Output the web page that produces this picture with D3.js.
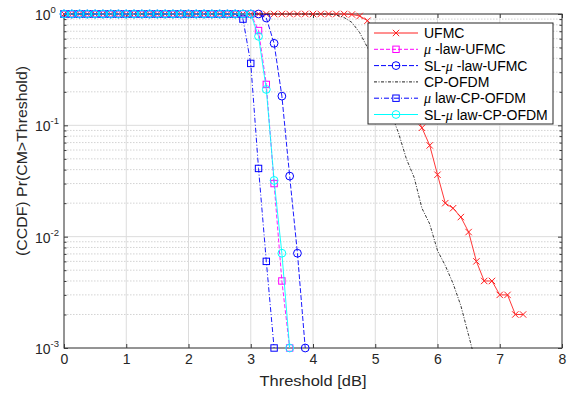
<!DOCTYPE html>
<html><head><meta charset="utf-8">
<script src="https://cdn.jsdelivr.net/npm/d3@7"></script>
<style>body{margin:0;background:#fff}svg{display:block}text{font-family:"Liberation Sans",Arial,Helvetica,sans-serif}</style>
</head><body><svg id="c" width="568" height="394"></svg>
<script>
// ---- data ----
const thresholds = [0,0.125,0.25,0.375,0.5,0.625,0.75,0.875,1,1.125,1.25,1.375,1.5,1.625,1.75,1.875,2,2.125,2.25,2.375,2.5,2.625,2.75,2.875,3,3.125,3.25,3.375,3.5,3.625,3.75,3.875,4,4.125,4.25,4.375,4.5,4.625,4.75,4.875,5,5.125,5.25,5.375,5.5,5.625,5.75,5.875,6,6.125,6.25,6.375,6.5,6.625,6.75,6.875,7,7.125,7.25,7.375];
const ufmc = [1,1,1,1,1,1,1,1,1,1,1,1,1,1,1,1,1,1,1,1,1,1,1,1,1,1,1,1,1,1,1,1,1,1,1,1,1,
  0.99,0.96,0.87,0.72,0.55,0.41,0.29,0.2,0.135,0.095,0.066,0.036,0.02,0.018,0.015,0.011,0.006,0.004,0.004,0.003,0.003,0.002,0.002];
const muUfmc = [1,1,1,1,1,1,1,1,1,1,1,1,1,1,1,1,1,1,1,1,1,1,1,1,1,
  0.71,0.233,0.03,0.004,0.001];
const slMuUfmc = [1,1,1,1,1,1,1,1,1,1,1,1,1,1,1,1,1,1,1,1,1,1,1,1,1,1,
  0.92,0.545,0.183,0.035,0.0071,0.001];
const cpOfdm = [1,1,1,1,1,1,1,1,1,1,1,1,1,1,1,1,1,1,1,1,1,1,1,1,1,1,1,1,1,1,1,1,1,1,1,
  0.98,0.93,0.84,0.68,0.5,0.33,0.2,0.13,0.085,0.05,0.034,0.018,0.013,0.0075,0.0055,0.0038,0.0024,0.0013,0.0007];
const muCpOfdm = [1,1,1,1,1,1,1,1,1,1,1,1,1,1,1,1,1,1,1,1,1,1,1,
  0.9,0.36,0.041,0.006,0.001];
const slMuCpOfdm = [1,1,1,1,1,1,1,1,1,1,1,1,1,1,1,1,1,1,1,1,1,1,1,1,1,
  0.63,0.21,0.032,0.0071,0.001];
const xTicks = [0,1,2,3,4,5,6,7,8];
const yTicks = [1e-3,1e-2,1e-1,1];
const yExps = ["-3","-2","-1","0"];
const seriesNames = ["UFMC","μ -law-UFMC","SL-μ -law-UFMC","CP-OFDM","μ law-CP-OFDM","SL-μ law-CP-OFDM"];

const series = [
  {name:seriesNames[0], v:ufmc, color:"#ff2020", dash:null, marker:"x"},
  {name:seriesNames[1], v:muUfmc, color:"#ff00ff", dash:"4,2", marker:"s"},
  {name:seriesNames[2], v:slMuUfmc, color:"#0000ff", dash:"5,2", marker:"o"},
  {name:seriesNames[3], v:cpOfdm, color:"#202020", dash:"3,1.5,1,1.5", marker:null},
  {name:seriesNames[4], v:muCpOfdm, color:"#0000ff", dash:"5,2,1,2", marker:"s"},
  {name:seriesNames[5], v:slMuCpOfdm, color:"#00ffff", dash:null, marker:"o"}
];

const L=64, R=562, T=14, B=348;
const x = d3.scaleLinear().domain([0,8]).range([L,R]);
const y = d3.scaleLog().domain([1e-3,1]).range([B,T]);
const svg = d3.select("#c");
const axisCol = "#3a3a3a";

// grid
const minor = [];
[1e-3,1e-2,1e-1].forEach(d=>{for(let k=2;k<=9;k++) minor.push(d*k);});
svg.append("g").selectAll("line").data(minor).join("line")
  .attr("x1",L).attr("x2",R).attr("y1",d=>y(d)).attr("y2",d=>y(d))
  .attr("stroke","#c8c8c8").attr("stroke-width",0.8).attr("stroke-dasharray","1.5,1.5");
svg.append("g").selectAll("line").data(yTicks).join("line")
  .attr("x1",L).attr("x2",R).attr("y1",d=>y(d)).attr("y2",d=>y(d))
  .attr("stroke","#dcdcdc").attr("stroke-width",1);
svg.append("g").selectAll("line").data(xTicks).join("line")
  .attr("x1",d=>x(d)).attr("x2",d=>x(d)).attr("y1",T).attr("y2",B)
  .attr("stroke","#dcdcdc").attr("stroke-width",1);

// axes
const xAxis = svg.append("g").attr("transform",`translate(0,${B})`)
  .call(d3.axisBottom(x).tickValues(xTicks).tickSize(-4).tickPadding(5).tickFormat(d3.format("d")));
xAxis.select(".domain").remove();
xAxis.selectAll("line").attr("stroke",axisCol);
xAxis.selectAll("text").attr("font-size",14).attr("fill","#262626").attr("dy","0.75em")
  .attr("font-family","'Liberation Sans',Arial,sans-serif");
const xTop = svg.append("g").attr("transform",`translate(0,${T})`)
  .call(d3.axisTop(x).tickValues(xTicks).tickSize(-4).tickFormat(""));
xTop.select(".domain").remove(); xTop.selectAll("line").attr("stroke",axisCol);

const yAxis = svg.append("g").attr("transform",`translate(${L},0)`)
  .call(d3.axisLeft(y).tickValues(yTicks).tickSize(-4).tickFormat(""));
yAxis.select(".domain").remove(); yAxis.selectAll("line").attr("stroke",axisCol);
const yMin = svg.append("g").attr("transform",`translate(${L},0)`)
  .call(d3.axisLeft(y).tickValues(minor).tickSize(-2.5).tickFormat(""));
yMin.select(".domain").remove(); yMin.selectAll("line").attr("stroke",axisCol);
const yR = svg.append("g").attr("transform",`translate(${R},0)`)
  .call(d3.axisRight(y).tickValues(yTicks).tickSize(-4).tickFormat(""));
yR.select(".domain").remove(); yR.selectAll("line").attr("stroke",axisCol);
const yRm = svg.append("g").attr("transform",`translate(${R},0)`)
  .call(d3.axisRight(y).tickValues(minor).tickSize(-2.5).tickFormat(""));
yRm.select(".domain").remove(); yRm.selectAll("line").attr("stroke",axisCol);

// y tick labels 10^n
const yl = svg.append("g").selectAll("text").data(yTicks).join("text")
  .attr("x",35).attr("y",d=>y(d)+6).attr("font-size",14).attr("fill","#262626");
yl.append("tspan").text("10");
yl.append("tspan").attr("font-size",9.5).attr("dy",-7).text((d,i)=>yExps[i]);

svg.append("rect").attr("x",L).attr("y",T).attr("width",R-L).attr("height",B-T)
  .attr("fill","none").attr("stroke",axisCol).attr("stroke-width",1);

// labels
svg.append("text").attr("x",(L+R)/2).attr("y",386).attr("text-anchor","middle")
  .attr("font-size",15).attr("fill","#262626").attr("textLength",107).attr("lengthAdjust","spacingAndGlyphs")
  .text("Threshold [dB]");
svg.append("text").attr("transform","translate(27,161) rotate(-90)").attr("text-anchor","middle")
  .attr("font-size",14.5).attr("fill","#262626").attr("textLength",190).attr("lengthAdjust","spacingAndGlyphs")
  .text("(CCDF) Pr(CM>Threshold)");

// clip
svg.append("clipPath").attr("id","clp").append("rect").attr("x",L).attr("y",T-1).attr("width",R-L).attr("height",B-T+2);

const line = d3.line().x((d,i)=>x(thresholds[i])).y(d=>y(d));
function drawMarker(g, type, color, cx, cy){
  if(type==="x"){
    g.append("path").attr("d",`M${cx-3.2},${cy-3.2}L${cx+3.2},${cy+3.2}M${cx-3.2},${cy+3.2}L${cx+3.2},${cy-3.2}`)
      .attr("stroke",color).attr("stroke-width",1).attr("fill","none");
  } else if(type==="s"){
    g.append("rect").attr("x",cx-3.2).attr("y",cy-3.2).attr("width",6.4).attr("height",6.4)
      .attr("stroke",color).attr("stroke-width",1).attr("fill","none");
  } else if(type==="o"){
    g.append("circle").attr("cx",cx).attr("cy",cy).attr("r",3.9)
      .attr("stroke",color).attr("stroke-width",1).attr("fill","none");
  }
}
series.forEach(s=>{
  const g = svg.append("g");
  g.append("path").attr("clip-path","url(#clp)").attr("d",line(s.v)).attr("fill","none")
    .attr("stroke",s.color).attr("stroke-width",0.9).attr("stroke-dasharray",s.dash);
  if(s.marker){
    s.v.forEach((d,i)=>{ if(d>=1e-3) drawMarker(g,s.marker,s.color,x(thresholds[i]),y(d)); });
  }
});

// legend
const lg = svg.append("g");
lg.append("rect").attr("x",368).attr("y",23).attr("width",185).attr("height",101)
  .attr("fill","#fff").attr("stroke","#262626").attr("stroke-width",1);
series.forEach((s,i)=>{
  const yy = 33 + i*16.3;
  lg.append("line").attr("x1",374).attr("x2",418).attr("y1",yy).attr("y2",yy)
    .attr("stroke",s.color).attr("stroke-width",1).attr("stroke-dasharray",s.dash);
  if(s.marker) drawMarker(lg,s.marker,s.color,396,yy);
  const t = lg.append("text").attr("x",424).attr("y",yy+5).attr("font-size",14).attr("fill","#000");
  const parts = s.name.split("μ");
  t.append("tspan").text(parts[0]);
  if(parts.length>1){
    t.append("tspan").attr("font-family","'Liberation Serif','Times New Roman',serif").attr("font-style","italic").text("μ");
    t.append("tspan").text(parts[1]);
  }
});
</script></body></html>
